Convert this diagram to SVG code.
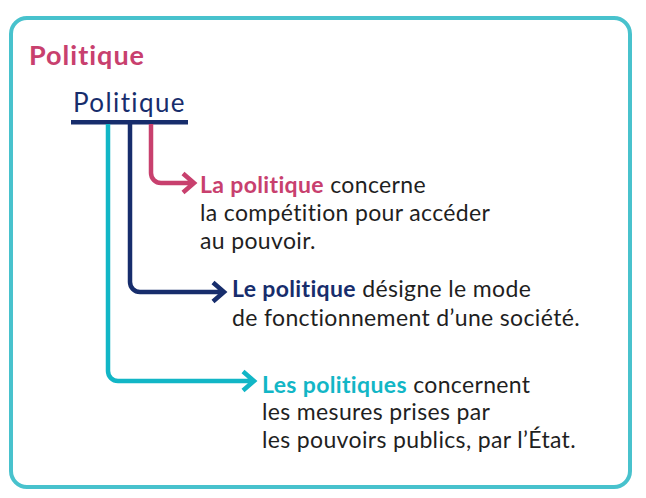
<svg xmlns="http://www.w3.org/2000/svg" width="646" height="498" viewBox="0 0 646 498">
<style>
.t{font-family:Lato,"Open Sans",sans-serif;font-size:23px;letter-spacing:0.35px;fill:#1f1f1f}
.b{font-weight:bold}
.pk{fill:#c8406e}.nv{fill:#172d6c}.tl{fill:#12b6c6}
.c{fill:none;stroke-width:4.5;stroke-linecap:butt;stroke-linejoin:miter}
</style>
<rect x="11" y="18" width="619" height="469" rx="16" fill="#fff" stroke="#48c2cd" stroke-width="4"/>
<g id="title"><text x="29" y="65" class="t b pk" style="font-size:27px;letter-spacing:1px">Politique</text></g>
<g id="root"><text x="73" y="112" class="t nv" style="font-size:26px;letter-spacing:1.4px">Politique</text>
<rect x="71" y="120" width="117" height="4.5" fill="#172d6c"/></g>
<g id="connectors">
<path class="c" stroke="#c8406e" d="M151 124V173a10 10 0 0 0 10 10H194M183 173.5l11 9.5-11 9.5"/>
<path class="c" stroke="#172d6c" d="M130 124V282a10 10 0 0 0 10 10H224M213 282.5l11 9.5-11 9.5"/>
<path class="c" stroke="#12b6c6" d="M108 124V371a10 10 0 0 0 10 10H254M243 371.5l11 9.5-11 9.5"/>
</g>
<g id="n1"><text class="t" x="200" y="193"><tspan class="b pk">La politique</tspan> concerne</text>
<text class="t" x="200" y="221">la compétition pour accéder</text>
<text class="t" x="200" y="249">au pouvoir.</text></g>
<g id="n2"><text class="t" x="232" y="297"><tspan class="b nv">Le politique</tspan> désigne le mode</text>
<text class="t" x="232" y="326">de fonctionnement d’une société.</text></g>
<g id="n3"><text class="t" x="262" y="393"><tspan class="b tl">Les politiques</tspan> concernent</text>
<text class="t" x="262" y="420">les mesures prises par</text>
<text class="t" x="262" y="448">les pouvoirs publics, par l’État.</text></g>
</svg>
